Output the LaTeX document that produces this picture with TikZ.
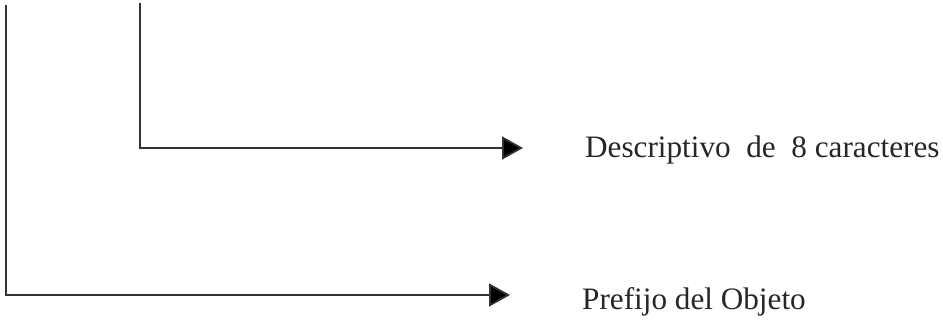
\documentclass[tikz,border=0pt]{standalone}
\usepackage{fontspec}
\setmainfont{Liberation Serif}
\usetikzlibrary{arrows.meta}
\begin{document}
\begin{tikzpicture}[x=1pt,y=1pt,
  conn/.style={draw=black!80,line width=1.8pt,-{Triangle[length=21pt,width=23pt,fill=black]}},
  lbl/.style={anchor=base west,inner sep=0pt,font=\fontsize{31.2}{36}\selectfont,text=black!85}]
\useasboundingbox (0,0) rectangle (943,322);
\coordinate (a1) at (6,317);
\coordinate (a2) at (510,27);
\coordinate (b1) at (140,319);
\coordinate (b2) at (523,174);
\draw[conn] (a1) |- (a2);
\draw[conn] (b1) |- (b2);
\node[lbl] (desc) at (585,165) {Descriptivo\ \ de\ \ 8 caracteres};
\node[lbl] (pref) at (582,13) {Prefijo del Objeto};
\end{tikzpicture}
\end{document}
